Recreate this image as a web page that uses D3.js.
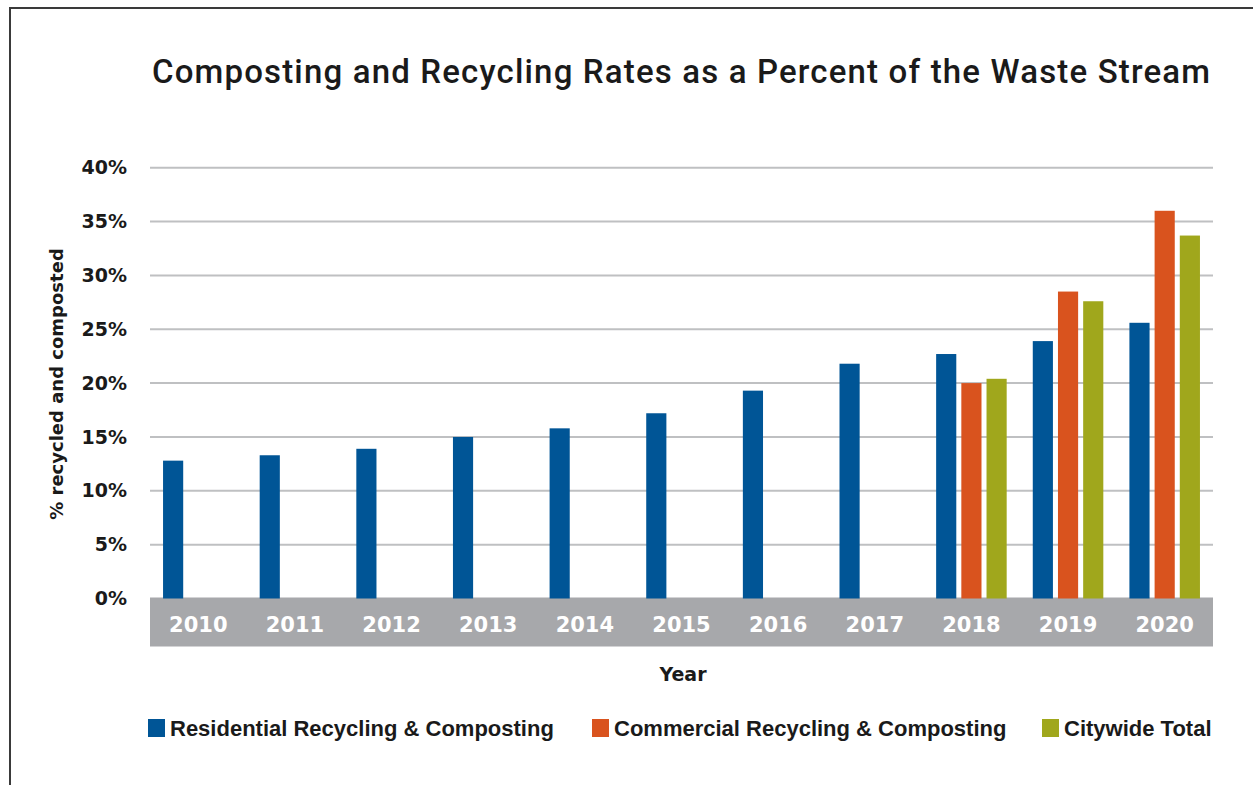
<!DOCTYPE html>
<html>
<head>
<meta charset="utf-8">
<script src="https://cdn.jsdelivr.net/npm/d3@7"></script>
<style>
  body { margin: 0; background: #fff; }
  svg { display: block; }
</style>
</head>
<body>
<svg width="1253" height="785"></svg>
<script>
/*
Chart data
*/

const years = ['2010', '2011', '2012', '2013', '2014', '2015', '2016', '2017', '2018', '2019', '2020'];
const seriesNames = ['Residential Recycling & Composting', 'Commercial Recycling & Composting', 'Citywide Total'];
const residential = [12.8, 13.3, 13.9, 15.0, 15.8, 17.2, 19.3, 21.8, 22.7, 23.9, 25.6];
const commercial = [null, null, null, null, null, null, null, null, 20.0, 28.5, 36.0];
const citywide = [null, null, null, null, null, null, null, null, 20.4, 27.6, 33.7];
const yTicks = [0, 5, 10, 15, 20, 25, 30, 35, 40];

const seriesColors = ['#005596', '#D9531E', '#A0A71C'];

var svg = d3.select('svg'),
	width = + svg.attr('width'),
	height = + svg.attr('height');

const plotLeft = 150, plotRight = 1213, plotTop = 167.7, plotBottom = 598.5;
const bandColor = '#A7A8AB';
const gridColor = '#BFC0C2';
const textColor = '#1a1a1a';

// frame (only left and top edges show)
svg.append('rect')
	.attr('x', 10).attr('y', 8)
	.attr('width', 1300).attr('height', 900)
	.attr('fill', 'none')
	.attr('stroke', '#3a3a3a')
	.attr('stroke-width', 2);

// title
svg.append('text')
	.attr('x', 152).attr('y', 83)
	.attr('font-family', 'Roboto, Liberation Sans, Arial, sans-serif')
	.attr('font-weight', 500)
	.attr('font-size', 33)
	.attr('textLength', 1058)
	.attr('lengthAdjust', 'spacing')
	.attr('fill', textColor)
	.text('Composting and Recycling Rates as a Percent of the Waste Stream');

/*
Scales
*/

var x0 = d3.scaleBand()
	.domain(years)
	.range([plotLeft, plotRight])
	.paddingInner(0.27)
	.paddingOuter(0.135);

var x1 = d3.scaleBand()
	.domain([0, 1, 2])
	.range([0, x0.bandwidth()])
	.paddingInner(0.2);

var y = d3.scaleLinear()
	.domain([0, 40])
	.range([plotBottom, plotTop]);

// gridlines
svg.append('g')
	.attr('class', 'grid')
	.selectAll('line')
	.data(yTicks.filter(function(d){ return d > 0; }))
	.enter().append('line')
		.attr('x1', plotLeft).attr('x2', plotRight)
		.attr('y1', function(d){ return y(d); })
		.attr('y2', function(d){ return y(d); })
		.attr('stroke', gridColor)
		.attr('stroke-width', 2);

// y axis labels
var yAxis = d3.axisLeft(y)
	.tickValues(yTicks)
	.tickSize(0)
	.tickPadding(0)
	.tickFormat(function(d){ return d + '%'; });

var yG = svg.append('g')
	.attr('transform', 'translate(127,0)')
	.call(yAxis);
yG.select('.domain').remove();
yG.selectAll('text')
	.attr('font-family', 'DejaVu Sans, sans-serif')
	.attr('font-weight', 'bold')
	.attr('font-size', 19)
	.attr('fill', textColor);

// grey category band
svg.append('rect')
	.attr('x', plotLeft).attr('y', plotBottom - 1)
	.attr('width', plotRight - plotLeft).attr('height', 49)
	.attr('fill', bandColor);

// bars
var allSeries = [residential, commercial, citywide];
var groups = svg.append('g')
	.attr('class', 'bars')
	.selectAll('g')
	.data(years)
	.enter().append('g')
		.attr('transform', function(d){ return 'translate(' + x0(d) + ',0)'; });

groups.selectAll('rect')
	.data(function(d, i){
		return allSeries.map(function(s, k){ return { k: k, v: s[i] }; })
			.filter(function(e){ return e.v != null; });
	})
	.enter().append('rect')
		.attr('x', function(d){ return x1(d.k); })
		.attr('y', function(d){ return y(d.v); })
		.attr('width', x1.bandwidth())
		.attr('height', function(d){ return y(0) - y(d.v); })
		.attr('fill', function(d){ return seriesColors[d.k]; });

// x axis labels inside the band
var xAxis = d3.axisBottom(x0).tickSize(0).tickPadding(0);
var xG = svg.append('g')
	.attr('transform', 'translate(0,' + (plotBottom + 19) + ')')
	.call(xAxis);
xG.select('.domain').remove();
xG.selectAll('text')
	.attr('font-family', 'DejaVu Sans, sans-serif')
	.attr('font-weight', 'bold')
	.attr('font-size', 21)
	.attr('fill', '#ffffff');

// axis titles
svg.append('text')
	.attr('x', 683).attr('y', 681)
	.attr('text-anchor', 'middle')
	.attr('font-family', 'DejaVu Sans, sans-serif')
	.attr('font-weight', 'bold')
	.attr('font-size', 19)
	.attr('fill', textColor)
	.text('Year');

svg.append('text')
	.attr('transform', 'translate(63,384) rotate(-90)')
	.attr('text-anchor', 'middle')
	.attr('font-family', 'DejaVu Sans, sans-serif')
	.attr('font-weight', 'bold')
	.attr('font-size', 18)
	.attr('fill', textColor)
	.text('% recycled and composted');

/*
Legend
*/

const legendX = [148, 592, 1042];
var legend = svg.append('g')
	.attr('class', 'legend')
	.selectAll('g')
	.data(seriesNames)
	.enter().append('g')
		.attr('transform', function(d, i){ return 'translate(' + legendX[i] + ',719)'; });

legend.append('rect')
	.attr('width', 17).attr('height', 18)
	.attr('fill', function(d, i){ return seriesColors[i]; });

legend.append('text')
	.attr('x', 22).attr('y', 17)
	.attr('font-family', 'Liberation Sans Narrow, Arial Narrow, sans-serif')
	.attr('font-weight', 'bold')
	.attr('font-size', 22)
	.attr('fill', textColor)
	.text(function(d){ return d; });
</script>
</body>
</html>
